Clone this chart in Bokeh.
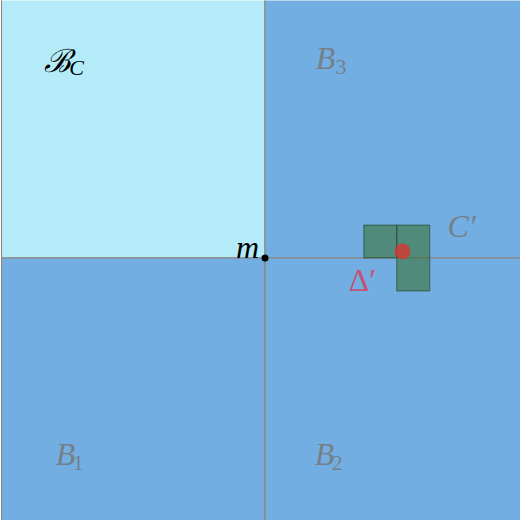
from bokeh.plotting import figure
from bokeh.models import Range1d
from bokeh.core.properties import value
from bokeh.embed import file_html
from bokeh.resources import INLINE

# quadrants (unit squares around m = (1, 1))
quad_left = [0, 1, 0, 1]
quad_right = [1, 2, 1, 2]
quad_bottom = [1, 1, 0, 0]
quad_top = [2, 2, 1, 1]
quad_colors = ["#B3EBF8", "#72AEE2", "#72AEE2", "#72AEE2"]

# C' cells
cell_left = [1.375, 1.5]
cell_right = [1.5, 1.625]
cell_bottom = [1.0, 0.875]
cell_top = [1.125, 1.125]

# points
m_x, m_y = [1.0], [1.0]
delta_x, delta_y = [1.522], [1.025]

# labels
lab_text = ["ℬ", "B", "B", "B"]
lab_x = [0.2125, 1.2296, 0.243, 1.226]
lab_y = [1.749, 1.757, 0.258, 0.258]
lab_color = ["#000000", "#777777", "#777777", "#777777"]
lab_alpha = [1.0, 0.85, 0.85, 0.85]
sub_text = ["C", "3", "1", "2"]
sub_x = [0.285, 1.2885, 0.291, 1.274]
sub_y = [1.721, 1.725, 0.222, 0.222]
sub_style = ["italic", "normal", "normal", "normal"]

p = figure(width=520, height=520, output_backend="svg", toolbar_location=None,
           x_range=Range1d(-0.0038, 1.9697), y_range=Range1d(0.0038, 1.977),
           min_border=0)
p.axis.visible = False
p.grid.visible = False
p.outline_line_color = None
p.background_fill_color = "white"

p.quad(left=quad_left, right=quad_right, bottom=quad_bottom, top=quad_top,
       fill_color=quad_colors, line_color="#8C8078", line_width=1)

p.quad(left=cell_left, right=cell_right, bottom=cell_bottom, top=cell_top,
       fill_color="#387235", fill_alpha=0.6, line_color="#2A4A3A", line_alpha=0.6, line_width=1.2)

p.scatter(delta_x, delta_y, size=16, fill_color="#E0302C", fill_alpha=0.75, line_color=None)
p.scatter(m_x, m_y, size=7, fill_color="black", line_color=None)

src = dict(x=lab_x, y=lab_y, text=lab_text, color=lab_color, alpha=lab_alpha)
p.text(x="x", y="y", text="text", source=src, text_color="color", text_alpha="alpha",
       text_font=value("Liberation Serif"), text_font_style="italic",
       text_font_size="32px", text_align="center", text_baseline="middle")

sub_src = dict(x=sub_x, y=sub_y, text=sub_text, color=lab_color, alpha=lab_alpha, style=sub_style)
p.text(x="x", y="y", text="text", source=sub_src, text_color="color", text_alpha="alpha",
       text_font=value("Liberation Serif"), text_font_style="style",
       text_font_size="22px", text_align="center", text_baseline="middle")

p.text(x=[0.934], y=[1.040], text=["m"], text_color="black",
       text_font=value("Liberation Serif"), text_font_style="italic",
       text_font_size="32px", text_align="center", text_baseline="middle")
p.text(x=[1.746], y=[1.120], text=["C′"], text_color="#777777", text_alpha=0.85,
       text_font=value("Liberation Serif"), text_font_style="italic",
       text_font_size="32px", text_align="center", text_baseline="middle")
p.text(x=[1.370], y=[0.918], text=["Δ′"], text_color="#D83A55", text_alpha=0.8,
       text_font=value("Liberation Serif"), text_font_style="normal",
       text_font_size="32px", text_align="center", text_baseline="middle")

open("out.html", "w").write(file_html(p, INLINE))
